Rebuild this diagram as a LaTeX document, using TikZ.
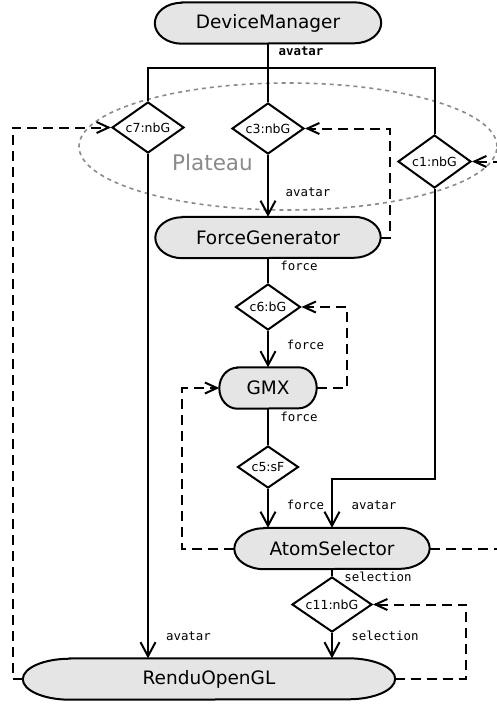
\documentclass[tikz,border=0pt]{standalone}
\usepackage{fontspec}
\setmainfont{DejaVu Sans}
\setmonofont{DejaVu Sans Mono}
\usetikzlibrary{shapes.geometric,arrows.meta,calc,backgrounds}

\definecolor{boxfill}{HTML}{E5E5E5}
\definecolor{zonegray}{HTML}{8A8A8A}

% half height of the capsule-shaped components
\newcommand\capsh{20.5pt}
% capsule outline behind a component node: #1 node name, #2 horizontal radius of the ends (pt)
\newcommand\capsuleoutline[2]{%
  \begin{scope}[on background layer]
    \filldraw[capsuleline] ($(#1.north west)+(#2pt,0)$) -- ($(#1.north east)+(-#2pt,0)$)
      arc[start angle=90,end angle=-90,x radius=#2pt,y radius=\capsh]
      -- ($(#1.south west)+(#2pt,0)$)
      arc[start angle=270,end angle=90,x radius=#2pt,y radius=\capsh] -- cycle;
  \end{scope}}

\tikzset{
  capsule/.style={rectangle, inner sep=0pt, minimum height=41pt,
    font=\fontsize{18.5}{20}\selectfont},
  capsuleline/.style={draw=black, fill=boxfill, line width=2pt},
  cond/.style={diamond, aspect=1.45, draw=black, fill=white, line width=2pt,
    inner sep=0pt, font=\fontsize{12.5}{14}\selectfont},
  lbl/.style={font=\ttfamily\fontsize{12.4}{14}\selectfont, inner sep=0pt},
  wire/.style={line width=2pt},
  flow/.style={line width=2pt, -{Straight Barb[length=14pt,width=15pt]}},
  fb/.style={line width=2pt, dash pattern=on 10pt off 6pt,
    -{Straight Barb[length=12pt,width=11pt]}},
  zone/.style={draw=zonegray, line width=1.6pt, dash pattern=on 4pt off 4pt},
}

\begin{document}
\begin{tikzpicture}[x=1pt,y=-1pt]
\useasboundingbox (0,0) rectangle (496,704);

% the "Plateau" zone
\begin{scope}[on background layer]
  \draw[zone] (288,146.5) ellipse [x radius=209pt, y radius=63.5pt];
\end{scope}
\node[text=zonegray, font=\fontsize{21.5}{24}\selectfont, inner sep=0pt] (plateau) at (212.5,162) {Plateau};

% components
\node[capsule, minimum width=226pt] (dm)  at (268,23)    {DeviceManager};
\node[capsule, minimum width=225pt] (fg)  at (268,237.5) {ForceGenerator};
\node[capsule, minimum width=97pt]  (gmx) at (268,388)   {GMX};
\node[capsule, minimum width=195pt] (as)  at (332,548.5) {AtomSelector};
\node[capsule, minimum width=372pt] (ro)  at (209,679)   {RenduOpenGL};
\capsuleoutline{dm}{27}
\capsuleoutline{fg}{27}
\capsuleoutline{gmx}{18}
\capsuleoutline{as}{30}
\capsuleoutline{ro}{47}

% connectors (conditions)
\node[cond, minimum width=72pt, minimum height=51pt] (c7)  at (148,127.5) {c7:nbG};
\node[cond, minimum width=72pt, minimum height=51pt] (c3)  at (268,128.5) {c3:nbG};
\node[cond, minimum width=73pt, minimum height=53pt] (c1)  at (434.5,161.5) {c1:nbG};
\node[cond, minimum width=65pt, minimum height=46pt] (c6)  at (268,307) {c6:bG};
\node[cond, minimum width=61pt, minimum height=42pt] (c5)  at (268,467) {c5:sF};
\node[cond, minimum width=80pt, minimum height=55pt] (c11) at (332,604.5) {c11:nbG};

% avatar fan-out from the device manager
\coordinate (split) at (268,68);
\draw[wire] (dm.south) -- (split);
\draw[wire] (c7.north) |- (split) -| (c1.north);
\draw[wire] (split) -- (c3.north);

% data flow
\draw[flow] (c3.south) -- (fg.north);
\draw[wire] (fg.south) -- (c6.north);
\draw[flow] (c6.south) -- (gmx.north);
\draw[wire] (gmx.south) -- (c5.north);
\draw[flow] (c5.south) -- (c5.south |- as.north);
\coordinate (asin) at (332,479);
\draw[flow] (c1.south) |- (asin) -- (as.north);
\draw[wire] (as.south) -- (c11.north);
\draw[flow] (c11.south) -- (c11.south |- ro.north);
\draw[flow] (c7.south) -- (c7.south |- ro.north);

% feedback links
\draw[fb] (fg.east) -- ++(9,0) |- (c3.east);
\draw[fb] (gmx.east) -- ++(30,0) |- (c6.east);
\draw[fb] (as.west) -- ++(-52,0) |- (gmx.west);
\draw[fb] (as.east) -- ++(75,0) |- (c1.east);
\draw[fb] (ro.east) -- ++(71,0) |- (c11.east);
\draw[fb] (ro.west) -- ++(-10,0) |- (c7.west);

% port labels
\node[lbl, font=\ttfamily\bfseries\fontsize{12.4}{14}\selectfont] (l0) at (301,51) {avatar};
\node[lbl] (l1) at (308,192) {avatar};
\node[lbl] (l2) at (299,266) {force};
\node[lbl] (l3) at (305.5,345) {force};
\node[lbl] (l4) at (299,417) {force};
\node[lbl] (l5) at (305.5,505) {force};
\node[lbl] (l6) at (374,505) {avatar};
\node[lbl] (l7) at (378,577) {selection};
\node[lbl] (l8) at (385,636) {selection};
\node[lbl] (l9) at (188.5,636) {avatar};
\end{tikzpicture}
\end{document}
